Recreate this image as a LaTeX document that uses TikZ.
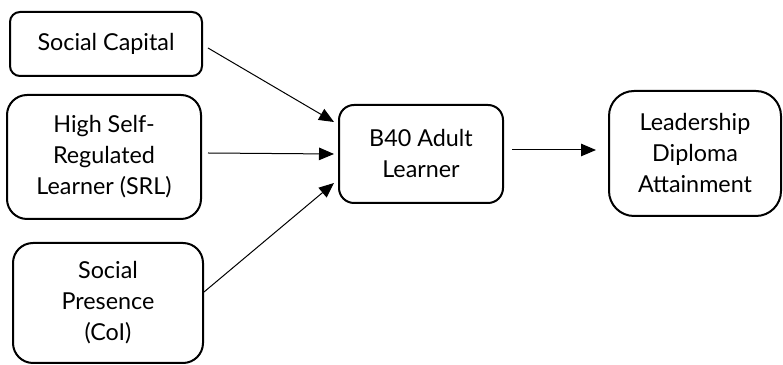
\documentclass[tikz,border=0pt]{standalone}
\usepackage{fontspec}
\setmainfont{Lato}
\usetikzlibrary{arrows.meta}
\definecolor{ink}{HTML}{000000}
\tikzset{
  box/.style={draw=ink, fill=white, line width=1.2pt, align=center,
              font=\fontsize{14}{18.6}\selectfont, inner sep=0pt},
  ar/.style={-{Triangle[length=9pt,width=7.5pt]}, line width=0.6pt, draw=ink}
}
\begin{document}
\begin{tikzpicture}[x=0.6pt,y=-0.6pt]
  \useasboundingbox (0,0) rectangle (783,365);
  \node[box, rounded corners=6pt, minimum width=115.2pt, minimum height=38.4pt] (cap) at (106,44)
    {Social Capital};
  \node[box, rounded corners=12pt, minimum width=116.4pt, minimum height=74.4pt] (srl) at (104,157)
    {High Self-\\Regulated\\Learner (SRL)};
  \node[box, rounded corners=12pt, minimum width=114pt, minimum height=72pt] (coi) at (108,303)
    {Social\\Presence\\(CoI)};
  \node[box, rounded corners=9pt, minimum width=98.4pt, minimum height=58.8pt] (adult) at (421,154)
    {B40 Adult\\Learner};
  \node[box, rounded corners=15pt, minimum width=103.2pt, minimum height=75pt] (lead) at (695,153.5)
    {Leadership\\Diploma\\Attainment};

  \draw[ar] ([shift={(5,4)}]cap.east) -- ([shift={(-4,-32)}]adult.west);
  \draw[ar] ([shift={(6,-4)}]srl.east) -- ([shift={(-4,0)}]adult.west);
  \draw[ar] ([shift={(0,-11)}]coi.east) -- ([shift={(-4,29)}]adult.west);
  \draw[ar] ([shift={(8,-4)}]adult.east) -- ([shift={(-12,-3.5)}]lead.west);
\end{tikzpicture}
\end{document}
